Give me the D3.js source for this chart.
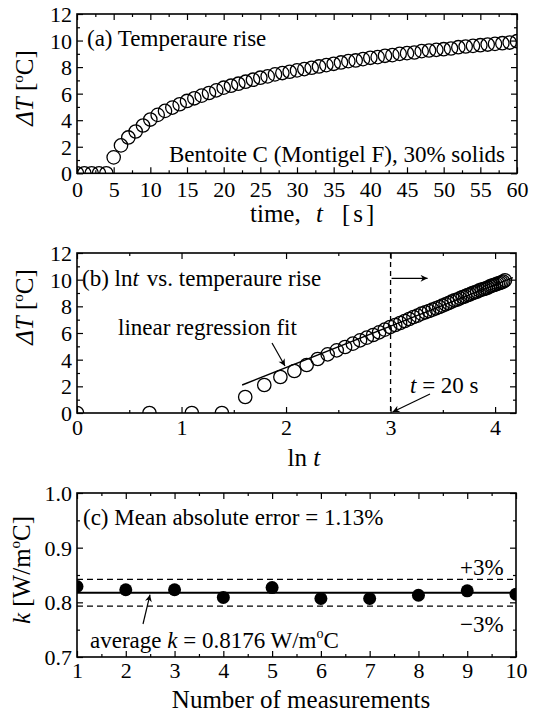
<!DOCTYPE html>
<html><head><meta charset="utf-8">
<script src="https://cdn.jsdelivr.net/npm/d3@7"></script>
<style>
body{margin:0;background:#fff}
svg{display:block}
text{font-family:"Liberation Serif","Times New Roman",serif;fill:#000}
</style>
</head><body>
<svg id="chart" width="537" height="722"></svg>
<script>
// ---------- data ----------
const timeS = [0,1,2,3,4,5,6,7,8,9,10,11,12,13,14,15,16,17,18,19,20,21,22,23,24,25,26,27,28,29,30,
  31,32,33,34,35,36,37,38,39,40,41,42,43,44,45,46,47,48,49,50,51,52,53,54,55,56,57,58,59,60];
const deltaT = [0,0,0,0,0,1.2,2.1,2.7,3.15,3.6,4.05,4.4,4.7,4.95,5.2,5.45,5.65,5.85,6.05,6.25,6.45,
  6.6,6.75,6.9,7.05,7.2,7.3,7.45,7.55,7.65,7.75,7.85,7.95,8.05,8.15,8.25,8.35,8.45,8.5,8.6,8.7,
  8.75,8.85,8.9,9.0,9.05,9.1,9.2,9.25,9.3,9.35,9.4,9.5,9.55,9.6,9.65,9.7,9.75,9.8,9.85,9.95];
const fitLnT = [1.58, 4.17];
const fitDT = [2.1, 10.15];
const measurementNo = [1,2,3,4,5,6,7,8,9,10];
const kValues = [0.829,0.823,0.823,0.809,0.827,0.807,0.807,0.813,0.821,0.815];
const kAverage = 0.8176;
const kBandUpper = 0.842;
const kBandLower = 0.793;
const cutoffLnT = 3;
const ticksAx = [0,5,10,15,20,25,30,35,40,45,50,55,60];
const ticksAy = [0,2,4,6,8,10,12];
const ticksBx = [0,1,2,3,4];
const ticksBy = [0,2,4,6,8,10,12];
const ticksCx = [1,2,3,4,5,6,7,8,9,10];
const ticksCy = [0.7,0.8,0.9,1.0];

// ---------- setup ----------
const svg = d3.select("#chart");
const defs = svg.append("defs");
defs.append("marker").attr("id","arr").attr("viewBox","0 0 10 10").attr("refX",10).attr("refY",5)
  .attr("markerWidth",9).attr("markerHeight",7).attr("markerUnits","userSpaceOnUse").attr("orient","auto")
  .append("path").attr("d","M0,0 L10,5 L0,10 L3,5 Z").attr("fill","#000");

function minorOf(major){
  const out=[];
  for(let i=0;i<major.length-1;i++) out.push((major[i]+major[i+1])/2);
  return out;
}

function frame(id, x, y, o){
  const [xl,xr] = x.range(); const [yb,yt] = y.range();
  const g = svg.append("g");
  const ax = (gen, tr, vals, size, fmt, pad, isLeft) => {
    const a = g.append("g").attr("transform",tr)
      .call(gen.tickValues(vals).tickSizeInner(size).tickSizeOuter(0).tickPadding(pad||0).tickFormat(fmt));
    a.select(".domain").remove();
    a.selectAll("line").attr("stroke","#000").attr("stroke-width",1.2);
    a.selectAll("text").attr("font-size",22).attr("font-family","Liberation Serif").attr("fill","#000");
    if(isLeft) a.selectAll("text").attr("dy","0.34em");
    return a;
  };
  const xMinor = o.xMinor, yMinor = o.yMinor;
  ax(d3.axisBottom(x), `translate(0,${yb})`, o.xMajor, -6, o.xFmt, o.xPad);
  ax(d3.axisBottom(x), `translate(0,${yb})`, xMinor, -3, "");
  ax(d3.axisTop(x), `translate(0,${yt})`, o.xMajor, -6, "");
  ax(d3.axisTop(x), `translate(0,${yt})`, xMinor, -3, "");
  ax(d3.axisLeft(y), `translate(${xl},0)`, o.yMajor, -6, o.yFmt, 5, true);
  ax(d3.axisLeft(y), `translate(${xl},0)`, yMinor, -3, "");
  ax(d3.axisRight(y), `translate(${xr},0)`, o.yMajor, -6, "");
  ax(d3.axisRight(y), `translate(${xr},0)`, yMinor, -3, "");
  g.append("rect").attr("x",xl).attr("y",yt).attr("width",xr-xl).attr("height",yb-yt)
    .attr("fill","none").attr("stroke","#000").attr("stroke-width",1.6);
  defs.append("clipPath").attr("id",id).append("rect")
    .attr("x",xl).attr("y",yt).attr("width",xr-xl).attr("height",yb-yt);
}

function yLabelDT(cx, cy){
  const t = svg.append("text").attr("transform",`translate(${cx},${cy}) rotate(-90)`)
    .attr("text-anchor","middle").attr("font-size",25);
  t.append("tspan").attr("font-style","italic").text("ΔT");
  t.append("tspan").text(" [");
  t.append("tspan").attr("font-size",15).attr("dy",-10).text("o");
  t.append("tspan").attr("dy",10).text("C]");
}

// ---------- panel (a) ----------
const xA = d3.scaleLinear().domain([0,60]).range([77,517]);
const yA = d3.scaleLinear().domain([0,12]).range([173.3,14]);
frame("clipA", xA, yA, {xMajor:ticksAx, xMinor:minorOf(ticksAx), yMajor:ticksAy, yMinor:minorOf(ticksAy),
  xFmt:d3.format("d"), yFmt:d3.format("d"), xPad:8});
svg.append("g").attr("clip-path","url(#clipA)").selectAll("circle").data(timeS).join("circle")
  .attr("cx",(d)=>xA(d)).attr("cy",(d,i)=>yA(deltaT[i])).attr("r",6.7)
  .attr("fill","none").attr("stroke","#000").attr("stroke-width",1.3);
svg.append("text").attr("x",87).attr("y",46).attr("font-size",23).text("(a) Temperaure rise");
svg.append("text").attr("x",505).attr("y",162).attr("text-anchor","end").attr("font-size",23)
  .text("Bentoite C (Montigel F), 30% solids");
yLabelDT(33, 88);
{
  const t = svg.append("text").attr("x",250).attr("y",222).attr("font-size",25);
  t.append("tspan").text("time,");
  t.append("tspan").attr("x",316).attr("font-style","italic").text("t");
  t.append("tspan").attr("x",342).attr("letter-spacing",3).text("[s]");
}

// ---------- panel (b) ----------
const xB = d3.scaleLinear().domain([0,4.2]).range([77,516]);
const yB = d3.scaleLinear().domain([0,12]).range([413,253]);
frame("clipB", xB, yB, {xMajor:ticksBx, xMinor:minorOf(ticksBx), yMajor:ticksBy, yMinor:minorOf(ticksBy),
  xFmt:d3.format("d"), yFmt:d3.format("d"), xPad:6});
const bPts = timeS.map((t,i)=>({lt: t>0 ? Math.log(t) : null, dT: deltaT[i]})).filter(d=>d.lt!==null);
svg.append("g").attr("clip-path","url(#clipB)").selectAll("circle").data(bPts).join("circle")
  .attr("cx",d=>xB(d.lt)).attr("cy",d=>yB(d.dT)).attr("r",6.7)
  .attr("fill","none").attr("stroke","#000").attr("stroke-width",1.3);
svg.append("line").attr("x1",xB(fitLnT[0])).attr("y1",yB(fitDT[0])).attr("x2",xB(fitLnT[1])).attr("y2",yB(fitDT[1]))
  .attr("stroke","#000").attr("stroke-width",1.4).attr("clip-path","url(#clipB)");
svg.append("line").attr("x1",xB(cutoffLnT)).attr("x2",xB(cutoffLnT)).attr("y1",yB(12)).attr("y2",yB(0))
  .attr("stroke","#000").attr("stroke-width",1.3).attr("stroke-dasharray","5,4");
svg.append("line").attr("x1",xB(cutoffLnT)+1).attr("x2",xB(cutoffLnT)+37).attr("y1",yB(10.1)).attr("y2",yB(10.1))
  .attr("stroke","#000").attr("stroke-width",1.3).attr("marker-end","url(#arr)");
{
  const t = svg.append("text").attr("x",82).attr("y",286).attr("font-size",23);
  t.append("tspan").text("(b) ln");
  t.append("tspan").attr("font-style","italic").text("t");
  t.append("tspan").attr("dx",8).text("vs. temperaure rise");
}
svg.append("text").attr("x",118).attr("y",335).attr("font-size",23).text("linear regression fit");
svg.append("line").attr("x1",272).attr("y1",343).attr("x2",285).attr("y2",366)
  .attr("stroke","#000").attr("stroke-width",1.2).attr("marker-end","url(#arr)");
{
  const t = svg.append("text").attr("x",410).attr("y",393).attr("font-size",23);
  t.append("tspan").attr("font-style","italic").text("t");
  t.append("tspan").text(" = 20 s");
}
svg.append("line").attr("x1",430).attr("y1",394).attr("x2",xB(cutoffLnT)+2).attr("y2",yB(0)-1)
  .attr("stroke","#000").attr("stroke-width",1.2).attr("marker-end","url(#arr)");
yLabelDT(33, 307);
{
  const t = svg.append("text").attr("x",xB(2.17)).attr("y",466).attr("text-anchor","middle").attr("font-size",25);
  t.append("tspan").text("ln ");
  t.append("tspan").attr("font-style","italic").text("t");
}

// ---------- panel (c) ----------
const xC = d3.scaleLinear().domain([1,10]).range([77,516]);
const yC = d3.scaleLinear().domain([0.7,1.0]).range([657,493]);
frame("clipC", xC, yC, {xMajor:ticksCx, xMinor:minorOf(ticksCx), yMajor:ticksCy,
  yMinor:[0.75,0.85,0.95], xFmt:d3.format("d"), yFmt:d3.format(".1f"), xPad:5});
svg.append("line").attr("x1",xC(1)).attr("x2",xC(10)).attr("y1",yC(kAverage)).attr("y2",yC(kAverage))
  .attr("stroke","#000").attr("stroke-width",2);
[kBandUpper,kBandLower].forEach(v=>{
  svg.append("line").attr("x1",xC(1)).attr("x2",xC(10)).attr("y1",yC(v)).attr("y2",yC(v))
    .attr("stroke","#000").attr("stroke-width",1.3).attr("stroke-dasharray","6,4");
});
svg.append("g").attr("clip-path","url(#clipC)").selectAll("circle").data(measurementNo).join("circle")
  .attr("cx",d=>xC(d)).attr("cy",(d,i)=>yC(kValues[i])).attr("r",6.5).attr("fill","#000");
svg.append("text").attr("x",83).attr("y",525).attr("font-size",23).text("(c) Mean absolute error = 1.13%");
svg.append("text").attr("x",460).attr("y",575).attr("font-size",23).text("+3%");
svg.append("text").attr("x",460).attr("y",632).attr("font-size",23).text("\u22123%");
{
  const t = svg.append("text").attr("x",90).attr("y",648).attr("font-size",23);
  t.append("tspan").text("average ");
  t.append("tspan").attr("font-style","italic").text("k");
  t.append("tspan").text(" = 0.8176 W/m");
  t.append("tspan").attr("font-size",14).attr("dy",-10).text("o");
  t.append("tspan").attr("dy",10).text("C");
}
svg.append("line").attr("x1",143).attr("y1",624).attr("x2",150).attr("y2",yC(kAverage)+2)
  .attr("stroke","#000").attr("stroke-width",1.2).attr("marker-end","url(#arr)");
{
  const t = svg.append("text").attr("transform","translate(30,570) rotate(-90)")
    .attr("text-anchor","middle").attr("font-size",25);
  t.append("tspan").attr("font-style","italic").text("k");
  t.append("tspan").text(" [W/m");
  t.append("tspan").attr("font-size",15).attr("dy",-10).text("o");
  t.append("tspan").attr("dy",10).text("C]");
}
svg.append("text").attr("x",301).attr("y",708).attr("text-anchor","middle").attr("font-size",25)
  .text("Number of measurements");
</script>
</body></html>
